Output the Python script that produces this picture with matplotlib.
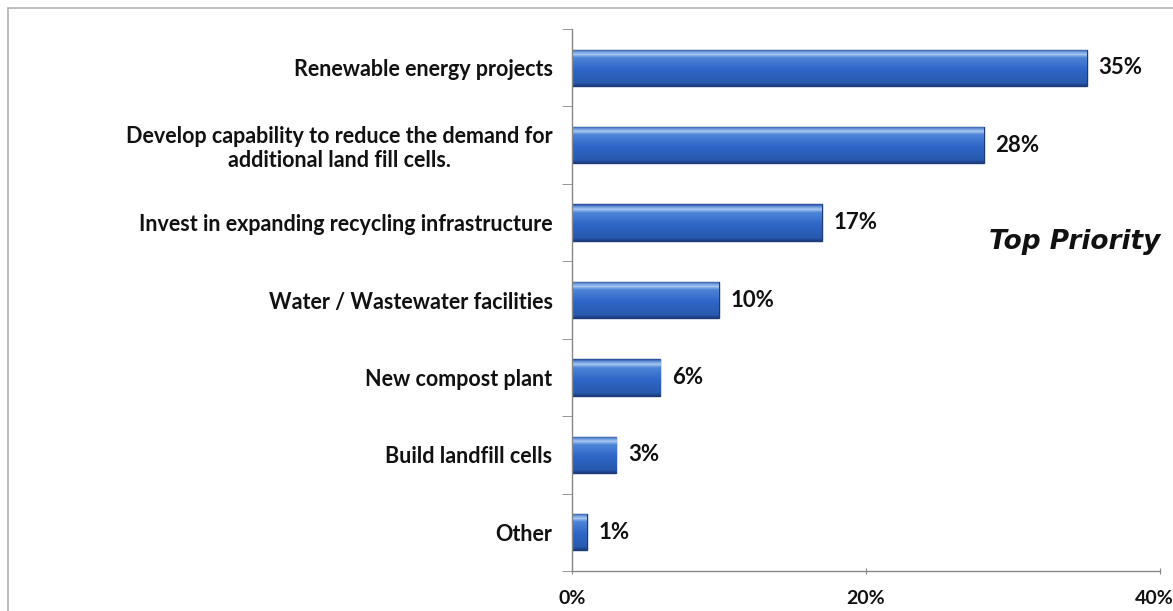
import numpy as np
import matplotlib
matplotlib.use("Agg")
import matplotlib.pyplot as plt
from matplotlib.colors import LinearSegmentedColormap
from matplotlib.patches import Rectangle
from matplotlib.transforms import blended_transform_factory, ScaledTranslation

categories = [
    "Renewable energy projects",
    "Develop capability to reduce the demand for\nadditional land fill cells.",
    "Invest in expanding recycling infrastructure",
    "Water / Wastewater facilities",
    "New compost plant",
    "Build landfill cells",
    "Other",
]
values = [35, 28, 17, 10, 6, 3, 1]
xticks = [0, 20, 40]
xtick_labels = ["0%", "20%", "40%"]

plt.rcParams["font.family"] = ["Lato", "DejaVu Sans"]

fig = plt.figure(figsize=(11.73, 6.11), dpi=100)
ax = fig.add_axes([572 / 1173, 1 - 571 / 611, (1160 - 572) / 1173, (571 - 29) / 611])

n = len(categories)
ypos = np.arange(n)
bar_h = 0.47

# vertical shading for the bevelled bar look (bottom -> top)
bar_cmap = LinearSegmentedColormap.from_list(
    "bevel",
    [(0.0, "#1d3d82"), (0.08, "#285aae"), (0.45, "#2f66c8"),
     (0.78, "#4f86d8"), (0.86, "#a9c8f0"), (0.93, "#6d9ce0"), (1.0, "#244c9c")],
)
grad = np.linspace(0, 1, 64).reshape(-1, 1)

bars = ax.barh(ypos, values, height=bar_h, color="#2f66c8",
               edgecolor="#1c3a78", linewidth=1.0, zorder=2)
for b in bars:
    x0, y0 = b.get_x(), b.get_y()
    w, h = b.get_width(), b.get_height()
    im = ax.imshow(grad, cmap=bar_cmap, aspect="auto", origin="lower",
                   extent=[x0, x0 + w, y0 + h, y0], zorder=2.5,
                   interpolation="bilinear")
    im.set_clip_path(b)

for y, v in zip(ypos, values):
    ax.text(v + 0.8, y, f"{v}%", va="center", ha="left",
            fontsize=16, color="#111111", fontweight="bold")

ax.set_ylim(n - 0.5, -0.5)
ax.set_xlim(0, 40)

ax.set_yticks(ypos)
ax.set_yticklabels(categories, fontsize=15.5, color="#111111",
                   fontweight="bold", multialignment="center",
                   linespacing=1.15)
ax.tick_params(axis="y", which="major", length=0, pad=14)
ax.set_yticks(np.arange(-0.5, n, 1.0), minor=True)
ax.tick_params(axis="y", which="minor", length=7, color="#888888", direction="out")

# x ticks: marks from the axis, labels drawn as text so the last one stays inside
ax.set_xticks(xticks)
ax.set_xticklabels([])
ax.tick_params(axis="x", which="major", length=5, color="#888888", direction="inout")
lab_tf = blended_transform_factory(ax.transData, ax.transAxes)
for xv, lab in zip(xticks, xtick_labels):
    tf = lab_tf
    if xv == xticks[-1]:
        tf = lab_tf + ScaledTranslation(-6 / 100, 0, fig.dpi_scale_trans)
    ax.text(xv, -0.05, lab, transform=tf, ha="center", va="center",
            fontsize=14, color="#111111", fontweight="bold")

for s in ("top", "right"):
    ax.spines[s].set_visible(False)
for s in ("left", "bottom"):
    ax.spines[s].set_color("#888888")
    ax.spines[s].set_linewidth(1.0)

ax.text(1.0, 0.607, "Top Priority", transform=ax.transAxes, ha="right",
        va="center", fontsize=19, fontweight="bold", fontstyle="oblique",
        family=["DejaVu Sans"], color="#111111")

# outer frame around the chart area
fig.patches.append(Rectangle((8 / 1173, -0.01), 1.1, 1 - 8 / 611 + 0.01,
                             transform=fig.transFigure, fill=False,
                             edgecolor="#b0b0b0", linewidth=1.2))

fig.savefig("out.png", dpi=100, facecolor="white")
